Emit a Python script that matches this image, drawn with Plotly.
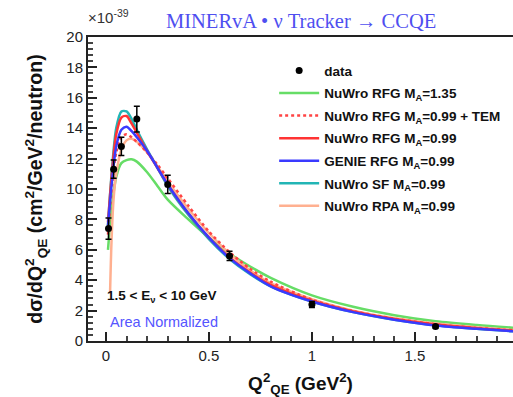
import plotly.graph_objects as go

# ---- data ----
data_x = [0.0125, 0.0375, 0.075, 0.15, 0.3, 0.6, 1.0, 1.6]
data_y = [7.4, 11.3, 12.8, 14.6, 10.3, 5.6, 2.4, 0.95]
data_err = [0.7, 0.6, 0.6, 0.85, 0.6, 0.3, 0.2, 0.1]

q2 = [0.01, 0.03, 0.05, 0.075, 0.1, 0.125, 0.15, 0.2, 0.25, 0.3, 0.4, 0.5,
      0.6, 0.7, 0.8, 1.0, 1.2, 1.4, 1.6, 1.8, 2.0]

nuwro_rfg_135 = [6.0, 9.0, 10.8, 11.7, 11.9, 11.95, 11.8, 11.1, 10.2, 9.3, 8.0, 6.8,
                 5.75, 4.9, 4.15, 3.0, 2.25, 1.7, 1.3, 1.05, 0.85]
nuwro_rfg_tem = [7.0, 10.3, 12.4, 13.4, 13.6, 13.4, 13.1, 12.4, 11.6, 10.7, 8.9, 7.2,
                 5.85, 4.75, 3.9, 2.72, 1.97, 1.47, 1.1, 0.86, 0.68]
nuwro_rfg_099 = [7.8, 11.2, 13.6, 14.7, 14.8, 14.3, 13.7, 12.5, 11.4, 10.3, 8.4, 6.8,
                 5.5, 4.5, 3.7, 2.65, 1.95, 1.45, 1.08, 0.84, 0.66]
genie_rfg_099 = [7.6, 10.6, 12.8, 13.9, 14.1, 13.8, 13.4, 12.5, 11.4, 10.3, 8.4, 6.8,
                 5.45, 4.45, 3.6, 2.6, 1.9, 1.4, 1.02, 0.8, 0.62]
nuwro_sf_099 = [7.6, 11.4, 14.0, 15.1, 15.1, 14.6, 13.9, 12.6, 11.4, 10.2, 8.3, 6.7,
                5.4, 4.4, 3.6, 2.6, 1.9, 1.4, 1.03, 0.8, 0.62]
q2_rpa = [0.02, 0.027, 0.037, 0.05, 0.075, 0.1, 0.125, 0.15, 0.2, 0.25, 0.3, 0.4, 0.5,
          0.6, 0.7, 0.8, 1.0, 1.2, 1.4, 1.6, 1.8, 2.0]
nuwro_rpa_099 = [3.1, 6.5, 9.3, 11.0, 12.6, 13.2, 13.3, 13.1, 12.4, 11.5, 10.5, 8.7, 7.1,
                 5.75, 4.65, 3.8, 2.75, 2.0, 1.5, 1.15, 0.9, 0.7]

FONT = "Liberation Sans"

fig = go.Figure()

curves = [
    ("<b>NuWro RFG M<sub>A</sub>=1.35</b>", q2, nuwro_rfg_135, "#66dd66", "solid", "g1"),
    ("<b>NuWro RFG M<sub>A</sub>=0.99 + TEM</b>", q2, nuwro_rfg_tem, "#ff4444", "dot", "g2"),
    ("<b>NuWro RFG M<sub>A</sub>=0.99</b>", q2, nuwro_rfg_099, "#ff3333", "solid", "g3"),
    ("<b>GENIE RFG M<sub>A</sub>=0.99</b>", q2, genie_rfg_099, "#3a3aff", "solid", "g4"),
    ("<b>NuWro SF M<sub>A</sub>=0.99</b>", q2, nuwro_sf_099, "#22b5b5", "solid", "g5"),
    ("<b>NuWro RPA M<sub>A</sub>=0.99</b>", q2_rpa, nuwro_rpa_099, "#ffb090", "solid", "g6"),
]
draw_order = [0, 5, 1, 4, 2, 3]
for i in draw_order:
    name, xs, ys, col, dash, grp = curves[i]
    fig.add_trace(go.Scatter(
        x=xs, y=ys, mode="lines", name=name,
        line=dict(color=col, width=2.5, dash=dash, shape="spline", smoothing=0.8),
        legendgroup=grp, legendrank=i + 2))

fig.add_trace(go.Scatter(
    x=data_x, y=data_y, mode="markers", name="<b>data</b>",
    marker=dict(color="black", size=7, symbol="circle"),
    error_y=dict(type="data", array=data_err, color="black", thickness=1.5, width=3),
    legendgroup="g0", legendrank=1))

fig.update_layout(
    width=513, height=397,
    margin=dict(l=88, r=0, t=37, b=56),
    paper_bgcolor="white", plot_bgcolor="white",
    showlegend=True,
    legend=dict(x=0.438, y=0.94, xanchor="left", yanchor="top",
                font=dict(family=FONT, size=13.5, color="#111"),
                bgcolor="rgba(0,0,0,0)", tracegroupgap=2, itemwidth=40,
                traceorder="grouped"),
    xaxis=dict(range=[-0.087, 1.976], showline=True, linewidth=2, linecolor="#222",
               mirror=True, ticks="inside", ticklen=9, tickwidth=1.5, tickcolor="#222",
               dtick=0.5, tick0=0, showgrid=False, zeroline=False,
               minor=dict(ticks="inside", ticklen=5, dtick=0.1, tickcolor="#444", showgrid=False),
               tickfont=dict(family=FONT, size=15, color="#222"),
               title=dict(text="<b>Q<sup>2</sup><sub>QE</sub> (GeV<sup>2</sup>)</b>",
                          font=dict(family=FONT, size=19, color="#111"), standoff=14)),
    yaxis=dict(range=[0, 20], showline=True, linewidth=2, linecolor="#222",
               ticks="inside", ticklen=9, tickwidth=1.5, tickcolor="#222",
               dtick=2, tick0=0, showgrid=False, zeroline=False,
               minor=dict(ticks="inside", ticklen=5, dtick=0.4, tickcolor="#444", showgrid=False),
               tickfont=dict(family=FONT, size=15, color="#222"),
               title=dict(text="<b>dσ/dQ<sup>2</sup><sub>QE</sub> (cm<sup>2</sup>/GeV<sup>2</sup>/neutron)</b>",
                          font=dict(family=FONT, size=19.5, color="#111"), standoff=18)),
    annotations=[
        dict(text="MINERvA • ν Tracker → CCQE", x=0.5, y=1.0, xref="paper", yref="paper",
             xanchor="center", yanchor="bottom", yshift=3, showarrow=False,
             font=dict(family="Liberation Serif", size=20.5, color="#4f4ff0")),
        dict(text="×10<sup>-39</sup>", xref="paper", yref="paper", x=0.0, y=1.0,
             xanchor="left", yanchor="bottom", yshift=9, xshift=-2, showarrow=False,
             font=dict(family=FONT, size=15, color="#333")),
        dict(text="<b>1.5 < E<sub>ν</sub> < 10 GeV</b>", xref="x", yref="y", x=-0.005, y=2.95,
             xanchor="left", yanchor="middle", showarrow=False,
             font=dict(family=FONT, size=13.5, color="#111")),
        dict(text="Area Normalized", xref="x", yref="y", x=0.012, y=1.25,
             xanchor="left", yanchor="middle", showarrow=False,
             font=dict(family=FONT, size=14.5, color="#5555ff")),
    ],
)

fig.write_html("out.html")
